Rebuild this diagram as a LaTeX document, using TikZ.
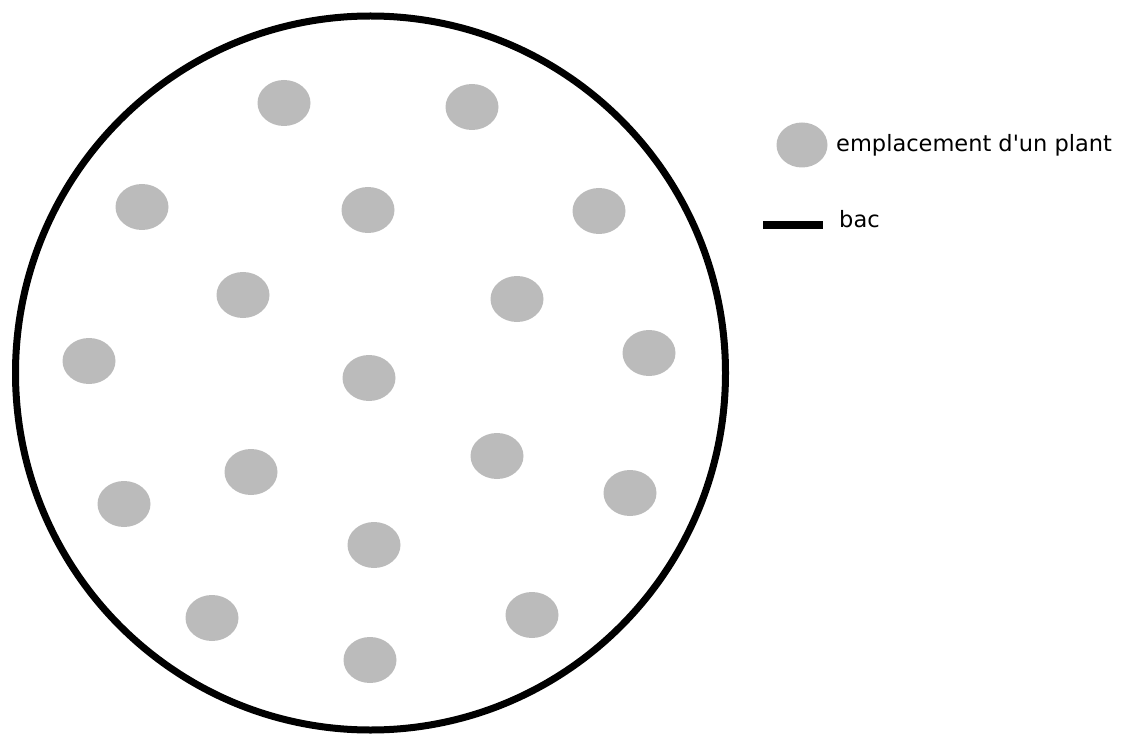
\documentclass[tikz,border=0pt]{standalone}
\usepackage{fontspec}
\setmainfont{DejaVu Sans}
\usetikzlibrary{shapes.geometric,positioning}
\definecolor{plantgray}{RGB}{187,187,187}
\tikzset{
  plant/.style={ellipse, fill=plantgray, minimum width=53pt, minimum height=46pt, inner sep=0pt},
  legendtext/.style={anchor=base west, inner sep=0pt, font=\fontsize{22.5}{26}\selectfont}
}
\begin{document}
\begin{tikzpicture}[x=1pt, y=-1pt]
            \useasboundingbox (0,0) rectangle (1121,735);
            % Bac
            \draw[line width=7pt] (370.5,373) ellipse [x radius=355, y radius=357];
            
            % Plants
            \foreach \px/\py [count=\i] in {284/103, 472/107, 142/207, 368/210, 599/211,
                243/295, 517/299, 89/361, 649/353, 369/378, 251/472, 497/456,
                124/504, 630/493, 374/545, 212/618, 532/615, 370/660}
              \node[plant] (p\i) at (\px,\py) {};
            
            % Legend
            \node[plant, minimum width=51pt, minimum height=45pt] (legplant) at (802,145) {};
            \node[legendtext] (legplanttxt) at (836,152) {emplacement d\textquotesingle un plant};
            \coordinate (bacstart) at (763,225.5);
            \coordinate (bacend) at (823,225.5);
            \draw[line width=8pt] (bacstart) -- (bacend);
            \node[legendtext] (bactxt) at (839,228) {bac};
\end{tikzpicture}
\end{document}
